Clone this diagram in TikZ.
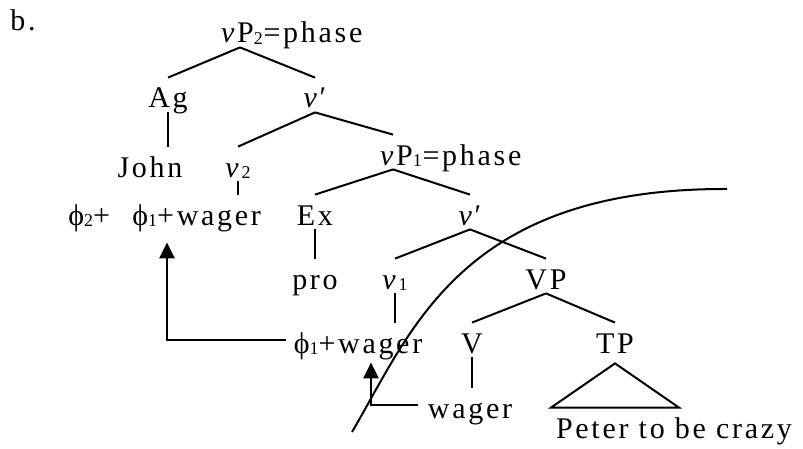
\documentclass[tikz,border=0pt]{standalone}
\usepackage{fontspec}
\setmainfont{Liberation Serif}[LetterSpace=9]
\usetikzlibrary{arrows.meta}
\newcommand\lowidx[1]{\raisebox{-0.7pt}{\fontsize{9}{10}\selectfont#1}}

\begin{document}
\begin{tikzpicture}[x=0.5pt,y=-0.5pt,
  font=\fontsize{15}{18}\selectfont,
  cat/.style={inner sep=0pt,text height=15pt,text depth=2pt,anchor=base},
  branch/.style={line width=1pt},
  mover/.style={line width=1.3pt,-{Triangle[length=8pt,width=7.5pt]}}]
  \useasboundingbox (0,0) rectangle (803,449);
  % label
  \node[anchor=base west,inner sep=0pt] (lab) at (10,31) {b.};
  % vP2 and its daughters
  \node[cat] (vp2) at (242,43) {\textit{v}P\lowidx{2}};
  \node[cat,anchor=base west] (ph2) at (vp2.base east) {=phase};
  \node[cat] (ag) at (168,108) {Ag};
  \node[cat] (vbar2) at (315,108) {\textit{v}′};
  \node[cat] (john) at (150,177) {John};
  \node[cat] (vtwo) at (238,177) {\textit{v}\lowidx{2}};
  \node[cat,anchor=base west] (phitwo) at (68,225) {ϕ\lowidx{2}+};
  \node[cat,anchor=base west] (phione) at (132,225) {ϕ\lowidx{1}+wager};
  % vP1 and its daughters
  \node[cat] (vp1) at (401,165) {\textit{v}P\lowidx{1}};
  \node[cat,anchor=base west] (ph1) at (vp1.base east) {=phase};
  \node[cat] (ex) at (315,225) {Ex};
  \node[cat] (vbar1) at (470,225) {\textit{v}′};
  \node[cat] (pro) at (315,289) {pro};
  \node[cat] (vone) at (395,289) {\textit{v}\lowidx{1}};
  \node[cat] (vp) at (546,289) {VP};
  \node[cat] (phimid) at (358,353) {ϕ\lowidx{1}+wager};
  \node[cat] (verb) at (472,353) {V};
  \node[cat] (tp) at (615,353) {TP};
  \node[cat] (wager) at (470,418) {wager};
  \node[cat] (peter) at (674,438) {Peter to be crazy};
  % branches
  \draw[branch] ([xshift=-1pt]vp2.south) -- (ag.north);
  \draw[branch] ([xshift=-1pt]vp2.south) -- (vbar2.north);
  \draw[branch] (ag.south) -- (ag.south |- john.north);
  \draw[branch] (vbar2.south) -- (vtwo.north);
  \draw[branch] (vbar2.south) -- ([xshift=-4pt]vp1.north);
  \draw[branch] (vtwo.south) -- (vtwo.south |- phione.north);
  \draw[branch] ([xshift=-4pt]vp1.south) -- (ex.north);
  \draw[branch] ([xshift=-4pt]vp1.south) -- (vbar1.north);
  \draw[branch] (ex.south) -- (ex.south |- pro.north);
  \draw[branch] (vbar1.south) -- (vone.north);
  \draw[branch] (vbar1.south) -- (vp.north);
  \draw[branch] (vone.south) -- (vone.south |- phimid.north);
  \draw[branch] (vp.south) -- (verb.north);
  \draw[branch] (vp.south) -- (tp.north);
  \draw[branch] (verb.south) -- (verb.south |- wager.north);
  \draw[branch] ([yshift=-3pt]tp.south) -- ([xshift=-32pt]tp.south |- peter.north)
    -- ([xshift=32pt]tp.south |- peter.north) -- cycle;
  % movement
  \draw[mover,shorten <=3.5pt,shorten >=6.5pt] (phimid.west) -| ([xshift=17.5pt]phione.south west);
  \draw[mover,shorten <=5pt,shorten >=2.5pt] (wager.west) -| ([xshift=6.5pt]phimid.south);
  % phase boundary
  \coordinate (cutlo) at (352,432);
  \coordinate (cuthi) at (727,189);
  \draw[branch] (cutlo) .. controls (412,330) and (462,188) .. (cuthi);
\end{tikzpicture}
\end{document}
